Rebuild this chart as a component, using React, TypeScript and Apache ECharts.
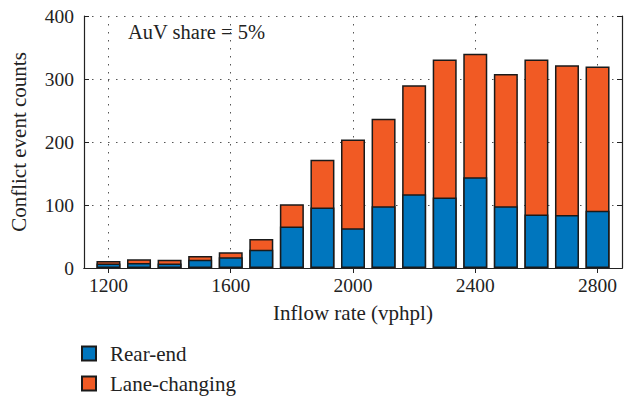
import React, { useEffect, useRef } from "react";
import * as echarts from "echarts";

const inflowRates = [1200, 1300, 1400, 1500, 1600, 1700, 1800, 1900, 2000, 2100, 2200, 2300, 2400, 2500, 2600, 2700, 2800];
const rearEnd = [7, 8, 7, 13, 17, 29, 66, 96, 63, 98, 117, 112, 144, 98, 85, 84, 91];
const laneChanging = [4, 6, 6, 6, 8, 17, 35, 76, 141, 139, 173, 219, 196, 210, 246, 238, 229];
const xTicks = [1200, 1600, 2000, 2400, 2800];

const FONT = "Liberation Serif";
const TXT = "#222";

export default function App() {
  const ref = useRef<HTMLDivElement>(null);
  useEffect(() => {
    if (!ref.current) return;
    const chart = echarts.init(ref.current, undefined, { renderer: "svg" });
    const dotted = { color: "#555", width: 1, type: [1.5, 6.5] as any };
    const axisLine = { show: true, lineStyle: { color: "#222", width: 1.2 } };
    // Lane-changing is stacked on top of Rear-end: its bar spans rear-end .. rear-end + lane-changing
    const stackedTop = inflowRates.map((x, i) => [x, rearEnd[i] + laneChanging[i]]);
    chart.setOption({
      animation: false,
      backgroundColor: "#fff",
      textStyle: { fontFamily: FONT, color: TXT },
      grid: { left: 82, right: 8, top: 16, bottom: 132, containLabel: false },
      legend: {
        orient: "vertical",
        left: 81,
        top: 343,
        padding: 0,
        itemWidth: 14,
        itemHeight: 14,
        itemGap: 9,
        icon: "rect",
        textStyle: { fontFamily: FONT, fontSize: 21, lineHeight: 19, color: TXT, padding: [0, 0, 0, 9] },
        data: ["Rear-end", "Lane-changing"],
      },
      xAxis: [
        {
          type: "value",
          min: 1120,
          max: 2880,
          position: "bottom",
          axisLine,
          axisTick: { show: true, inside: true, length: 5, customValues: xTicks, lineStyle: { color: "#222" } },
          axisLabel: {
            customValues: xTicks,
            formatter: (v: number) => String(v),
            fontFamily: FONT,
            fontSize: 19.5,
            color: TXT,
            margin: 7,
          },
          splitLine: { show: true, lineStyle: dotted },
          name: "Inflow rate (vphpl)",
          nameLocation: "middle",
          nameGap: 34,
          nameTextStyle: { fontFamily: FONT, fontSize: 21, color: TXT },
        },
        {
          type: "value",
          min: 1120,
          max: 2880,
          position: "top",
          axisLine,
          axisTick: { show: true, inside: true, length: 5, customValues: xTicks, lineStyle: { color: "#222" } },
          axisLabel: { show: false },
          splitLine: { show: false },
        },
      ],
      yAxis: [
        {
          type: "value",
          min: 0,
          max: 400,
          interval: 100,
          position: "left",
          axisLine,
          axisTick: { show: true, inside: true, length: 5, lineStyle: { color: "#222" } },
          axisLabel: { fontFamily: FONT, fontSize: 19.5, color: TXT, margin: 10 },
          splitLine: { show: true, lineStyle: dotted },
          name: "Conflict event counts",
          nameLocation: "middle",
          nameGap: 55,
          nameTextStyle: { fontFamily: FONT, fontSize: 21, color: TXT },
        },
        {
          type: "value",
          min: 0,
          max: 400,
          interval: 100,
          position: "right",
          axisLine,
          axisTick: { show: true, inside: true, length: 5, lineStyle: { color: "#222" } },
          axisLabel: { show: false },
          splitLine: { show: false },
        },
      ],
      graphic: [
        {
          type: "text",
          left: 128,
          top: 21,
          style: { text: "AuV share = 5%", fontFamily: FONT, fontSize: 20.5, fill: TXT },
        },
      ],
      series: [
        {
          name: "Lane-changing",
          type: "bar",
          barWidth: 24,
          barGap: "-100%",
          itemStyle: { color: "#F15A24", borderColor: "#1a1a1a", borderWidth: 1.5 },
          data: stackedTop,
        },
        {
          name: "Rear-end",
          type: "bar",
          barWidth: 24,
          barGap: "-100%",
          itemStyle: { color: "#0076BE", borderColor: "#1a1a1a", borderWidth: 1.5 },
          data: inflowRates.map((x, i) => [x, rearEnd[i]]),
        },
      ],
    });
    return () => chart.dispose();
  }, []);
  return <div ref={ref} style={{ width: 630, height: 400, position: "absolute", left: 0, top: 0 }} />;
}
